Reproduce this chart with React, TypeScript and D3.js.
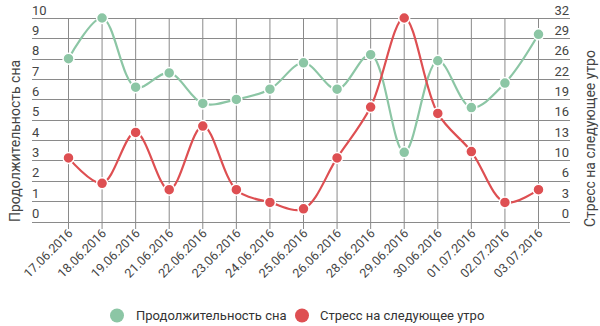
import React from "react";
import * as d3 from "d3";

const dates = ["17.06.2016","18.06.2016","19.06.2016","21.06.2016","22.06.2016","23.06.2016","24.06.2016","25.06.2016","26.06.2016","28.06.2016","29.06.2016","30.06.2016","01.07.2016","02.07.2016","03.07.2016"];
const sleep = [8.0, 10.0, 6.6, 7.3, 5.8, 6.0, 6.5, 7.8, 6.5, 8.2, 3.4, 7.9, 5.6, 6.8, 9.2];
const stress = [10, 6, 14, 5, 15, 5, 3, 2, 10, 18, 32, 17, 11, 3, 5];
const leftTicks = [0,1,2,3,4,5,6,7,8,9,10];
const rightTickLabels = ["0","3","6","10","13","16","19","22","26","29","32"];

const W = 600, H = 326;
const GREEN = "#8cc6a5";
const RED = "#de4f52";
const FONT = "Roboto, 'Noto Sans', sans-serif";

export default function App() {
  const gx0 = 32, gx1 = 570;
  const top = 18, bottom = 221.5;
  const x = d3.scalePoint<string>().domain(dates).range([68.5, 538.5]);
  const yL = d3.scaleLinear().domain([0, 10]).range([bottom, top]);
  const yR = d3.scaleLinear().domain([0, 32]).range([bottom, top]);
  const lineS = d3.line<number>().x((_, i) => x(dates[i])!).y(d => yL(d)).curve(d3.curveCatmullRom.alpha(0.5));
  const lineR = d3.line<number>().x((_, i) => x(dates[i])!).y(d => yR(d)).curve(d3.curveCatmullRom.alpha(0.5));

  return (
    <svg width={W} height={H} style={{ position: "absolute", left: 0, top: 0, fontFamily: FONT }}>
      <rect width={W} height={H} fill="#fff" />
      {leftTicks.map((t, i) => (
        <line key={"h" + i} x1={gx0} x2={gx1} y1={Math.round(yL(t)) + 0.5} y2={Math.round(yL(t)) + 0.5} stroke="#8a8a8a" strokeWidth={1} />
      ))}
      {dates.map((d) => (
        <line key={"v" + d} x1={x(d)} x2={x(d)} y1={top} y2={229} stroke="#8a8a8a" strokeWidth={1} />
      ))}
      {leftTicks.map((t, i) => (
        <text key={"lt" + i} x={gx0} y={yL(t) - 3.5} fontSize={13} fill="#444">{t}</text>
      ))}
      {rightTickLabels.map((t, i) => (
        <text key={"rt" + i} x={gx1 - 1} y={yL(i) - 3.5} fontSize={13} fill="#444" textAnchor="end">{t}</text>
      ))}
      {dates.map((d) => (
        <text key={"xl" + d} transform={`translate(${x(d)! + 5},${234}) rotate(-45)`} fontSize={12.5} fill="#444" textAnchor="end">{d}</text>
      ))}
      <text transform={`translate(20,222) rotate(-90)`} fontSize={14} fill="#444">Продолжительность сна</text>
      <text transform={`translate(595,227) rotate(-90)`} fontSize={14} fill="#444">Стресс на следующее утро</text>

      <path d={lineS(sleep)!} fill="none" stroke={GREEN} strokeWidth={2.2} />
      <path d={lineR(stress)!} fill="none" stroke={RED} strokeWidth={2.2} />
      {sleep.map((v, i) => (
        <circle key={"cs" + i} cx={x(dates[i])} cy={yL(v)} r={5.5} fill={GREEN} stroke="#fff" strokeWidth={1.5} />
      ))}
      {stress.map((v, i) => (
        <circle key={"cr" + i} cx={x(dates[i])} cy={yR(v)} r={5.5} fill={RED} stroke="#fff" strokeWidth={1.5} />
      ))}

      <circle cx={117} cy={315.5} r={7} fill={GREEN} />
      <text x={136} y={320} fontSize={13} fill="#333">Продолжительность сна</text>
      <circle cx={302} cy={315.5} r={7} fill={RED} />
      <text x={320} y={320} fontSize={13} fill="#333">Стресс на следующее утро</text>
    </svg>
  );
}
